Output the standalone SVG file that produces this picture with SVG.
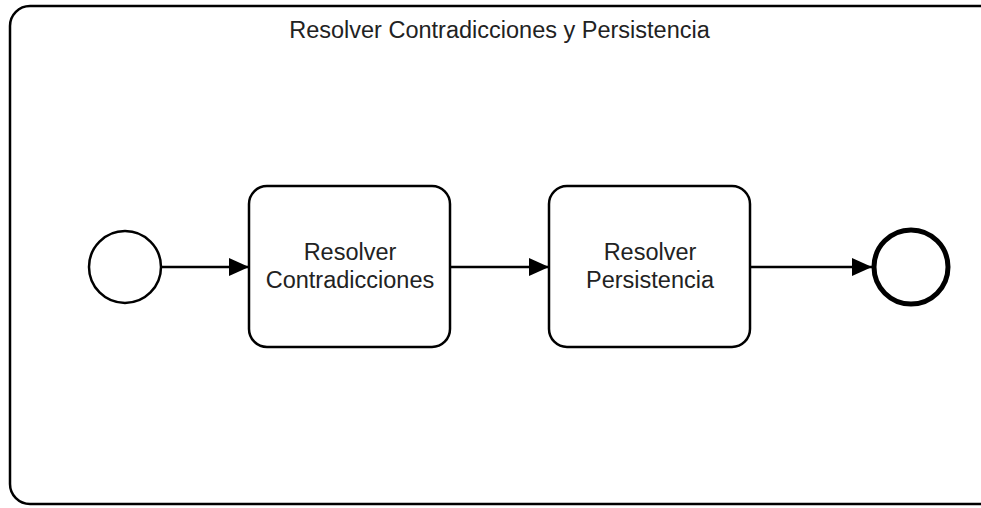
<svg xmlns="http://www.w3.org/2000/svg" width="981" height="508" viewBox="0 0 981 508">
<style>
text{font-family:"Liberation Sans",Arial,sans-serif;font-size:23.5px;fill:#222;text-anchor:middle}
.box{fill:#fff;stroke:#000;stroke-width:2.5}
.edge{stroke:#000;stroke-width:2.5;fill:none}
</style>
<defs>
<marker id="arr" viewBox="0 0 20 20" refX="20" refY="10" markerWidth="20" markerHeight="20" markerUnits="userSpaceOnUse" orient="auto">
<path d="M0,1 L20,10 L0,19 Z" fill="#000"/>
</marker>
</defs>
<rect width="981" height="508" fill="#fff"/>
<g id="container">
<rect x="10" y="6" width="990" height="498" rx="20" class="box"/>
<text x="499.5" y="38">Resolver Contradicciones y Persistencia</text>
</g>
<g id="start"><circle cx="125" cy="267" r="36" class="box"/></g>
<g id="task1">
<rect x="249" y="186" width="201" height="161" rx="18" class="box"/>
<text x="350" y="260">Resolver</text>
<text x="350" y="288">Contradicciones</text>
</g>
<g id="task2">
<rect x="549" y="186" width="201" height="161" rx="18" class="box"/>
<text x="650" y="260">Resolver</text>
<text x="650" y="288">Persistencia</text>
</g>
<g id="end"><circle cx="911" cy="267" r="37" fill="#fff" stroke="#000" stroke-width="5"/></g>
<g id="connectors">
<line x1="161" y1="267" x2="249" y2="267" class="edge" marker-end="url(#arr)"/>
<line x1="450" y1="267" x2="549" y2="267" class="edge" marker-end="url(#arr)"/>
<line x1="750" y1="267" x2="872" y2="267" class="edge" marker-end="url(#arr)"/>
</g>
</svg>
